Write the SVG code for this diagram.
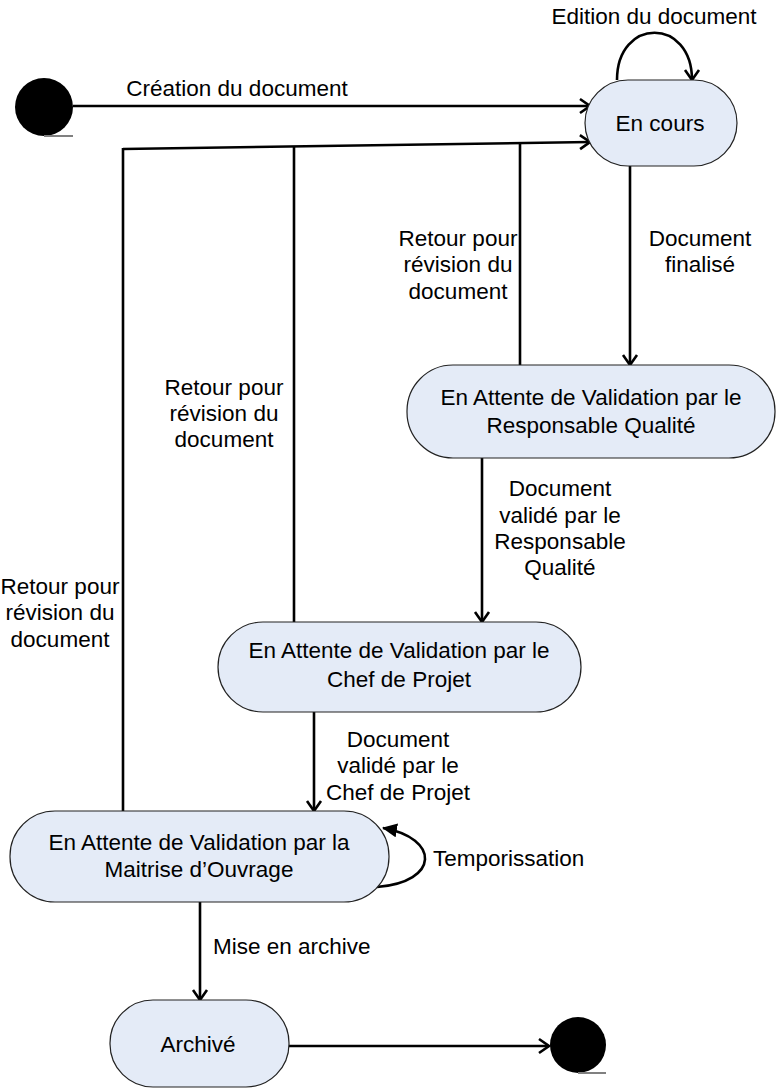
<svg xmlns="http://www.w3.org/2000/svg" width="776" height="1092" viewBox="0 0 776 1092">
<defs>
<style>
text{font-family:"Liberation Sans",Arial,sans-serif;font-size:22.5px;fill:#000}
.c{text-anchor:middle}
.node{fill:#E4EBF7;stroke:#222;stroke-width:1.2}
.edge{fill:none;stroke:#000;stroke-width:2.6}
.ul{stroke:#808080;stroke-width:2}
</style>
<marker id="open" markerUnits="userSpaceOnUse" markerWidth="14" markerHeight="18" refX="12" refY="8" orient="auto" viewBox="0 0 14 16">
<path d="M2,1 L12,8 L2,15" fill="none" stroke="#000" stroke-width="2.6"/>
</marker>
<marker id="solid" markerUnits="userSpaceOnUse" markerWidth="16" markerHeight="14" refX="14" refY="7" orient="auto" viewBox="0 0 16 14">
<path d="M0,0 L15,7 L0,14 Z" fill="#000"/>
</marker>
</defs>
<rect width="776" height="1092" fill="#fff"/>
<g id="connectors">
<line class="edge" x1="73" y1="106" x2="590" y2="106" marker-end="url(#open)"/>
<path class="edge" d="M617,80 C617,17 692,17 692,80" marker-end="url(#open)"/>
<line class="edge" x1="630" y1="166" x2="630" y2="365" marker-end="url(#open)"/>
<line class="edge" x1="123" y1="149" x2="590" y2="142" marker-end="url(#open)"/>
<line class="edge" x1="520" y1="365" x2="520" y2="143"/>
<line class="edge" x1="294" y1="622" x2="294" y2="146.4"/>
<line class="edge" x1="123" y1="811" x2="123" y2="148"/>
<line class="edge" x1="482" y1="458" x2="482" y2="622" marker-end="url(#open)"/>
<line class="edge" x1="314" y1="712" x2="314" y2="811" marker-end="url(#open)"/>
<path class="edge" d="M377,887 C440,882 440,838 383,828" marker-end="url(#solid)"/>
<line class="edge" x1="200" y1="902" x2="200" y2="1000" marker-end="url(#open)"/>
<line class="edge" x1="289" y1="1046" x2="549" y2="1046" marker-end="url(#open)"/>
<text class="c" x="237" y="96">Création du document</text>
<text class="c" x="654" y="24">Edition du document</text>
<text class="c" x="700" y="246">Document</text>
<text class="c" x="700" y="272">finalisé</text>
<text class="c" x="458" y="246">Retour pour</text>
<text class="c" x="458" y="272">révision du</text>
<text class="c" x="458" y="299">document</text>
<text class="c" x="224" y="395">Retour pour</text>
<text class="c" x="224" y="421">révision du</text>
<text class="c" x="224" y="447">document</text>
<text class="c" x="60" y="594">Retour pour</text>
<text class="c" x="60" y="620">révision du</text>
<text class="c" x="60" y="647">document</text>
<text class="c" x="560" y="496">Document</text>
<text class="c" x="560" y="523">validé par le</text>
<text class="c" x="560" y="549">Responsable</text>
<text class="c" x="560" y="575">Qualité</text>
<text class="c" x="398" y="747">Document</text>
<text class="c" x="398" y="773">validé par le</text>
<text class="c" x="398" y="800">Chef de Projet</text>
<text x="433" y="866">Temporissation</text>
<text x="213" y="954">Mise en archive</text>
</g>
<g id="start">
<circle cx="44" cy="107" r="29" fill="#000"/>
<line class="ul" x1="44" y1="136" x2="73" y2="136"/>
</g>
<g id="en-cours">
<rect class="node" x="585" y="80" width="152" height="86" rx="43"/>
<text class="c" x="660" y="131">En cours</text>
</g>
<g id="attente-rq">
<rect class="node" x="407" y="365" width="368" height="93" rx="46"/>
<text class="c" x="591" y="405">En Attente de Validation par le</text>
<text class="c" x="591" y="433">Responsable Qualité</text>
</g>
<g id="attente-chef">
<rect class="node" x="218" y="622" width="363" height="90" rx="45"/>
<text class="c" x="399" y="658">En Attente de Validation par le</text>
<text class="c" x="399" y="687">Chef de Projet</text>
</g>
<g id="attente-moa">
<rect class="node" x="10" y="811" width="379" height="91" rx="45"/>
<text class="c" x="199" y="850">En Attente de Validation par la</text>
<text class="c" x="199" y="877">Maitrise d’Ouvrage</text>
</g>
<g id="archive">
<rect class="node" x="110" y="1000" width="179" height="87" rx="43"/>
<text class="c" x="198" y="1052">Archivé</text>
</g>
<g id="end">
<circle cx="578" cy="1045" r="28" fill="#000"/>
<line class="ul" x1="578" y1="1073" x2="606" y2="1073"/>
</g>
</svg>
